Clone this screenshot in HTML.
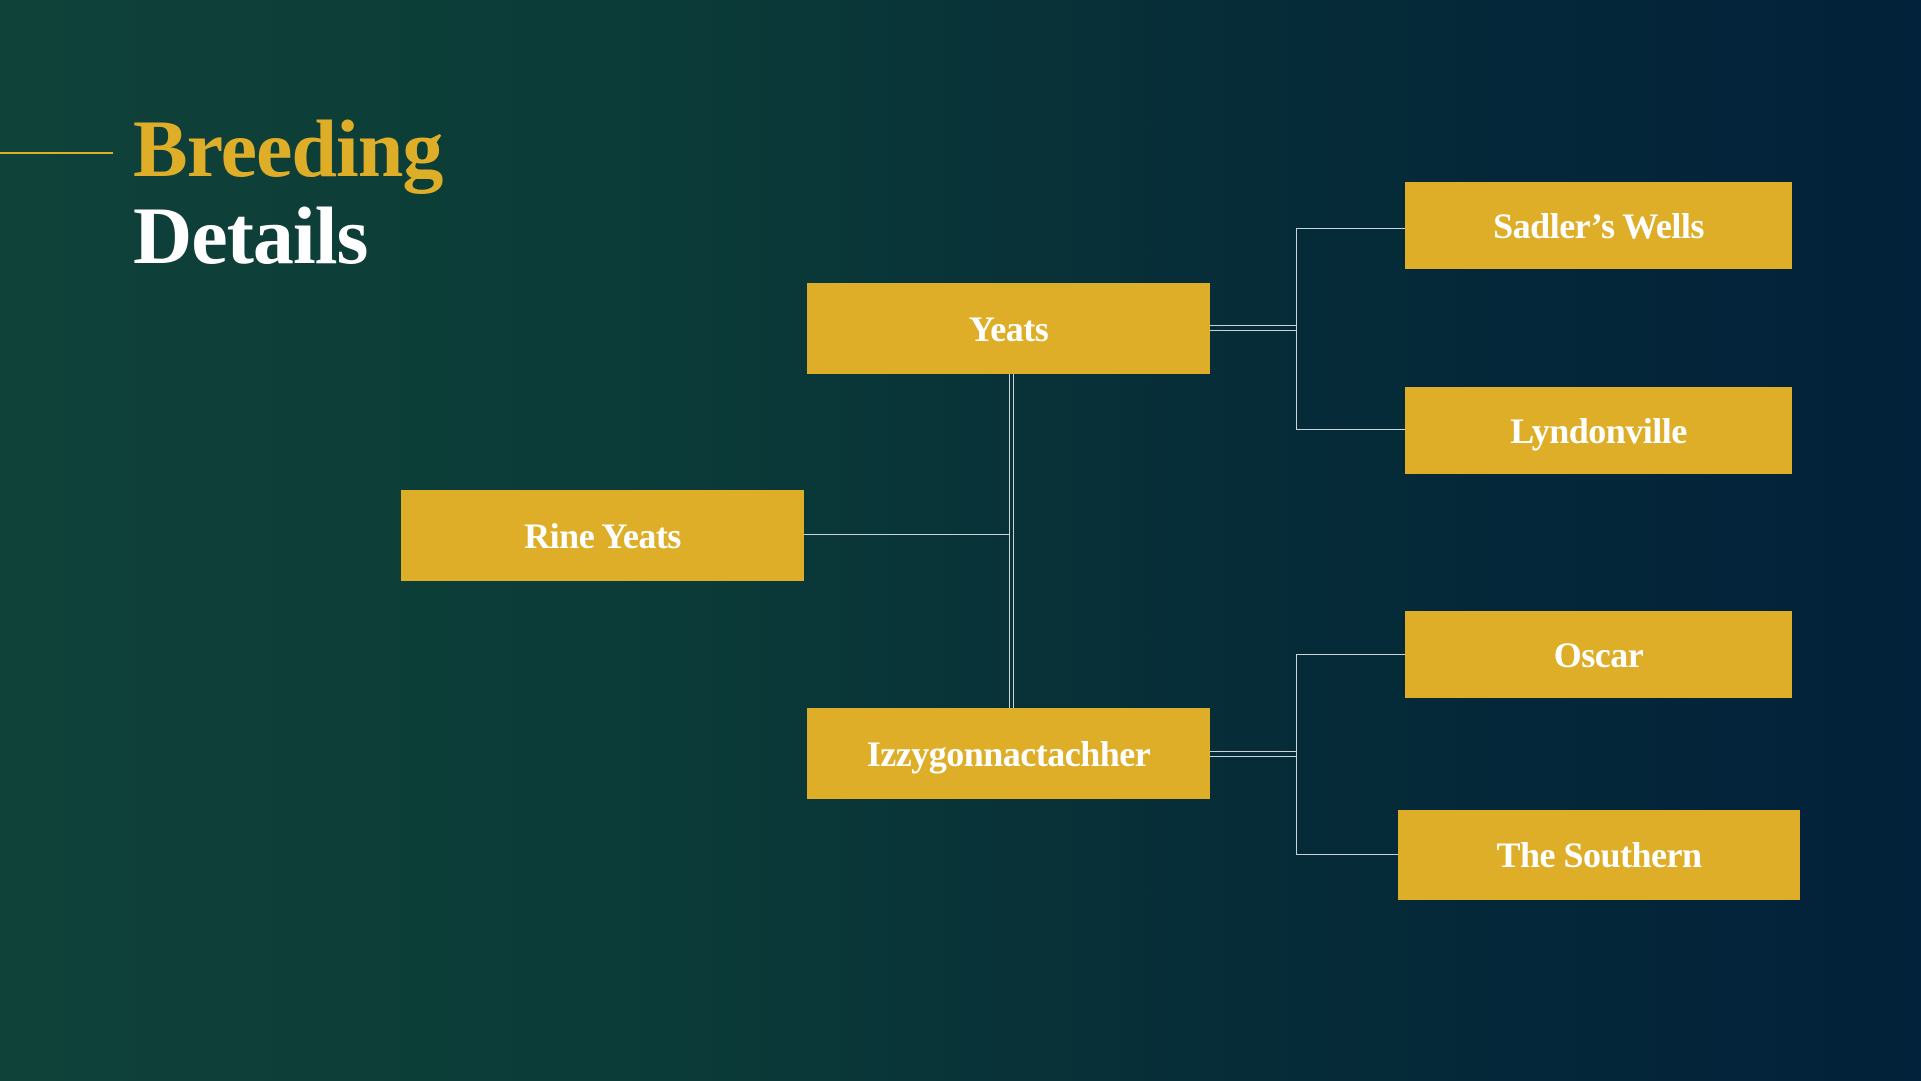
<!DOCTYPE html>
<html><head><meta charset="utf-8"><style>
html,body{margin:0;padding:0}
body{width:1921px;height:1081px;position:relative;overflow:hidden;background:linear-gradient(90deg,#0f4239 0%,#0b3b38 35%,#062c38 65%,#02213a 100%);font-family:"Liberation Serif",serif}
.t{position:absolute;left:133px;font-weight:bold;font-size:82px;line-height:1;letter-spacing:-1px}
.b{position:absolute;background:#dfae29;color:#fff;font-weight:bold;font-size:36px;display:flex;align-items:center;justify-content:center;letter-spacing:-0.5px}
.l{position:absolute;background:#c9d4da}
</style></head><body>
<div class="l" style="left:0;top:152px;width:113px;height:2px;background:#dfae29"></div>
<div class="t" style="top:108px;color:#dfae29">Breeding</div>
<div class="t" style="top:195px;color:#fff">Details</div>

<div class="b" style="left:807px;top:283px;width:403px;height:91px">Yeats</div>
<div class="b" style="left:401px;top:490px;width:403px;height:91px">Rine Yeats</div>
<div class="b" style="left:807px;top:708px;width:403px;height:91px">Izzygonnactachher</div>
<div class="b" style="left:1405px;top:182px;width:387px;height:87px">Sadler’s Wells</div>
<div class="b" style="left:1405px;top:387px;width:387px;height:87px">Lyndonville</div>
<div class="b" style="left:1405px;top:611px;width:387px;height:87px">Oscar</div>
<div class="b" style="left:1398px;top:810px;width:402px;height:90px">The Southern</div>

<div class="l" style="left:1009px;top:374px;width:1px;height:334px"></div>
<div class="l" style="left:1013px;top:374px;width:1px;height:334px"></div>
<div class="l" style="left:804px;top:534px;width:205px;height:1px"></div>

<div class="l" style="left:1210px;top:325px;width:86px;height:1px"></div>
<div class="l" style="left:1210px;top:330px;width:86px;height:1px"></div>
<div class="l" style="left:1296px;top:228px;width:1px;height:201px"></div>
<div class="l" style="left:1296px;top:228px;width:109px;height:1px"></div>
<div class="l" style="left:1296px;top:429px;width:109px;height:1px"></div>

<div class="l" style="left:1210px;top:751px;width:86px;height:1px"></div>
<div class="l" style="left:1210px;top:756px;width:86px;height:1px"></div>
<div class="l" style="left:1296px;top:654px;width:1px;height:200px"></div>
<div class="l" style="left:1296px;top:654px;width:109px;height:1px"></div>
<div class="l" style="left:1296px;top:854px;width:102px;height:1px"></div>
</body></html>
